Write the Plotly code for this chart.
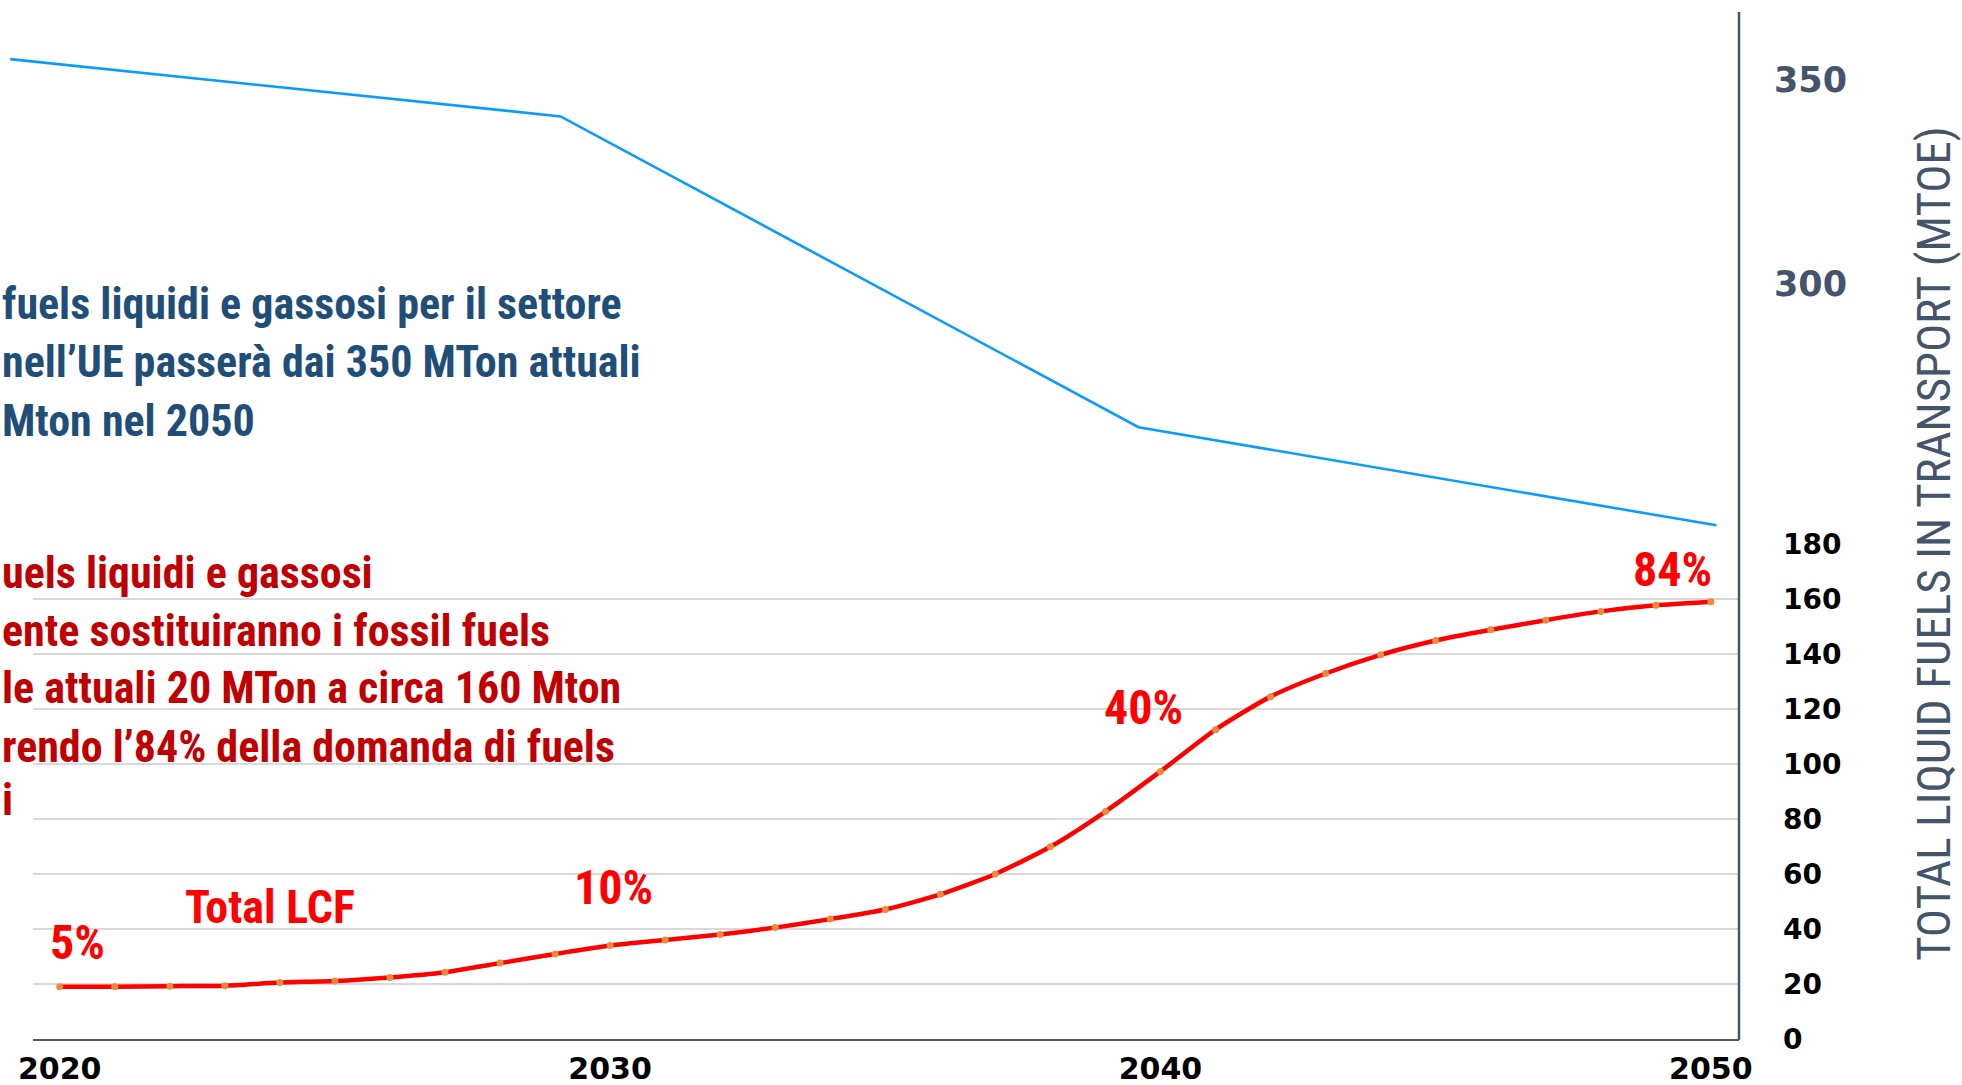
import plotly.graph_objects as go

# ---------------- data ----------------
years = list(range(2020, 2051))
lcf_mtoe = [19.0, 19.0, 19.2, 19.4, 20.5, 21.1, 22.4, 24.3, 27.6, 30.9,
            34.0, 36.0, 38.0, 40.5, 43.6, 47.1, 52.6, 60.0, 69.9, 82.7,
            97.3, 112.5, 124.5, 132.9, 139.7, 144.9, 148.8, 152.3, 155.5, 157.7,
            159.0]
total_years = [2019.1, 2029.1, 2039.6, 2050.1]
total_mtoe = [355, 341, 265, 241]

x_tickvals = [2020, 2030, 2040, 2050]
x_ticktext = ["2020", "2030", "2040", "2050"]
lcf_ticks = [0, 20, 40, 60, 80, 100, 120, 140, 160, 180]
total_ticks = [300, 350]

pct_text = ["5%", "10%", "40%", "84%"]
pct_x = [2020.33, 2030.07, 2039.70, 2049.31]
pct_y = [35.0, 55.0, 120.6, 170.6]

series_label = "Total LCF"
series_label_pos = (2023.82, 48.1)

blue_lines = ["fuels liquidi e gassosi per il settore",
              "nell\u2019UE passer\u00e0 dai 350 MTon attuali",
              "Mton nel 2050"]
red_lines = ["uels liquidi e gassosi",
             "ente sostituiranno i fossil fuels",
             "le attuali 20 MTon a circa 160 Mton",
             "rendo l\u201984% della domanda di fuels",
             "i"]
axis_title = "TOTAL LIQUID FUELS IN TRANSPORT (MTOE)"

# ---------------- layout helpers ----------------
W, H = 1962, 1085


def px(x):
    return x / W


def py(y):
    return (H - y) / H


NARROW = "Liberation Sans Narrow, Arial Narrow, Roboto Condensed, DejaVu Sans Condensed, sans-serif"
WIDE = "DejaVu Sans, Verdana, sans-serif"
SLATE = "#44546A"

fig = go.Figure()

fig.add_trace(go.Scatter(
    x=total_years, y=total_mtoe, mode="lines",
    line=dict(color="#0A9BFF", width=2.6),
    xaxis="x2", yaxis="y2", showlegend=False, hoverinfo="skip"))

fig.add_trace(go.Scatter(
    x=years, y=lcf_mtoe, mode="lines+markers",
    line=dict(color="#FF0000", width=4.5, shape="spline", smoothing=0.6),
    marker=dict(color="#EE8A3C", size=7),
    xaxis="x", yaxis="y", showlegend=False, hoverinfo="skip"))

annotations = []
for t, xv, yv in zip(pct_text, pct_x, pct_y):
    annotations.append(dict(
        x=xv, y=yv, xref="x", yref="y", text=t, showarrow=False,
        font=dict(family=NARROW, size=48, color="#FF0000", weight="bold")))
annotations.append(dict(
    x=series_label_pos[0], y=series_label_pos[1], xref="x", yref="y",
    text=series_label, showarrow=False,
    font=dict(family=NARROW, size=46, color="#FF0000", weight="bold")))

blue_y = [304, 362, 421]
for t, yy in zip(blue_lines, blue_y):
    annotations.append(dict(
        x=0, y=py(yy), xref="paper", yref="paper", xanchor="left", yanchor="middle",
        text=t, showarrow=False,
        font=dict(family=NARROW, size=44, color="#1F4E79", weight="bold")))

red_y = [573, 631, 688, 747, 800]
for t, yy in zip(red_lines, red_y):
    annotations.append(dict(
        x=0, y=py(yy), xref="paper", yref="paper", xanchor="left", yanchor="middle",
        text=t, showarrow=False,
        font=dict(family=NARROW, size=44, color="#C00000", weight="bold")))

annotations.append(dict(
    x=px(1933), y=py(544), xref="paper", yref="paper", xanchor="center", yanchor="middle",
    text=axis_title, textangle=-90, showarrow=False,
    font=dict(family=NARROW, size=47, color=SLATE)))

fig.update_layout(
    width=W, height=H,
    margin=dict(l=0, r=0, t=0, b=0, autoexpand=False),
    paper_bgcolor="white", plot_bgcolor="rgba(0,0,0,0)",
    showlegend=False,
    xaxis=dict(
        domain=[px(33), px(1739)], range=[2019.515, 2050.511],
        tickvals=x_tickvals, ticktext=x_ticktext,
        tickfont=dict(family=WIDE, size=30, color="black", weight="bold"),
        ticklabelstandoff=2,
        showgrid=False, zeroline=False, showline=True,
        linecolor="#595959", linewidth=2, ticks="", anchor="y"),
    yaxis=dict(
        domain=[py(1039), py(544)], range=[0, 180], side="right",
        tickvals=lcf_ticks,
        tickfont=dict(family=WIDE, size=28, color="black", weight="bold"),
        ticklabelstandoff=43,
        showgrid=True, gridcolor="#D9D9D9", gridwidth=1.5,
        zeroline=False, showline=False, ticks="", anchor="x"),
    xaxis2=dict(
        domain=[0, px(1739)], range=[2018.915, 2050.511],
        visible=False, anchor="y2"),
    yaxis2=dict(
        domain=[py(570.3), py(38.7)], range=[230, 360], side="right",
        tickvals=total_ticks,
        tickfont=dict(family=WIDE, size=35, color=SLATE, weight="bold"),
        ticklabelstandoff=34,
        showgrid=False, zeroline=False, showline=False, ticks="", anchor="x2"),
    annotations=annotations,
    shapes=[dict(type="line", xref="paper", yref="paper",
                 x0=px(1739), x1=px(1739), y0=py(1040), y1=py(12),
                 line=dict(color=SLATE, width=2.5))],
)

fig.write_html("out.html")
